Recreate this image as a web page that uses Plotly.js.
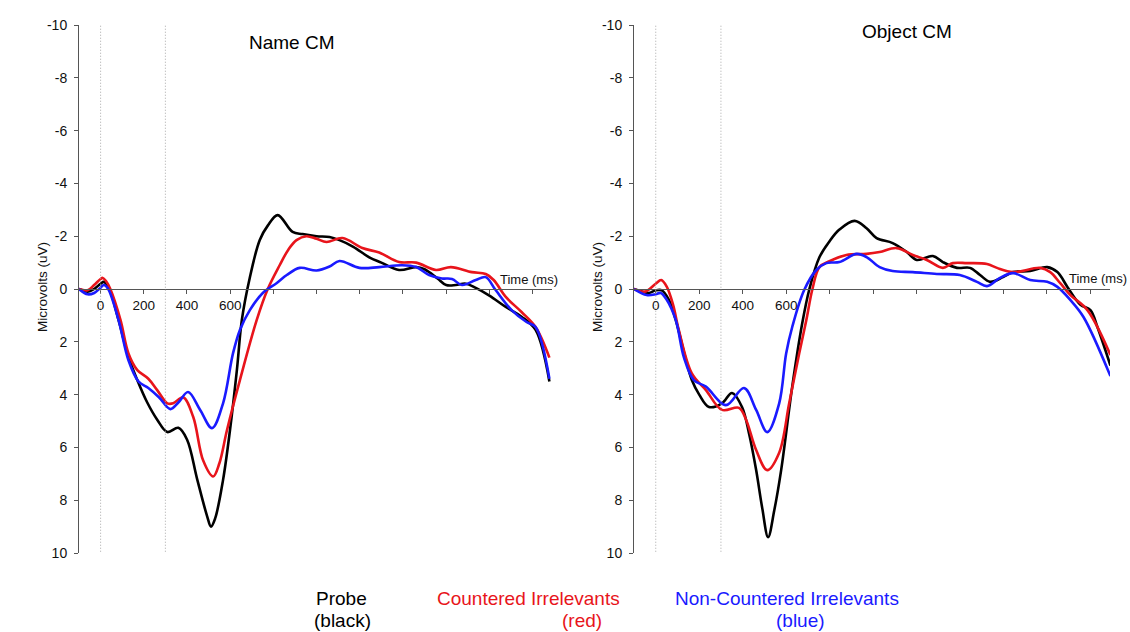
<!DOCTYPE html>
<html>
<head>
<meta charset="utf-8">
<script src="https://cdn.plot.ly/plotly-3.0.1.min.js"></script>
<style>html,body{margin:0;padding:0;background:#fff;}#chart{width:1130px;height:632px;}</style>
</head>
<body>
<div id="chart"></div>
<script>
// ---- Data (time in ms, amplitude in microvolts) ----
const panelTitles = ["Name CM", "Object CM"];
const seriesNames = ["Probe", "Countered Irrelevants", "Non-Countered Irrelevants"];
const seriesColors = ["#000000", "#e8141b", "#1a1aff"];
const markerTimes = [0, 300];
const xTickVals = [0, 200, 400, 600, 800, 1000, 1200, 1400, 1600, 1800, 2000];
const xTickText = ["0", "200", "400", "600", "", "", "", "", "", "", ""];
const yTickVals = [-10, -8, -6, -4, -2, 0, 2, 4, 6, 8, 10];
const yTickText = ["-10", "-8", "-6", "-4", "-2", "0", "2", "4", "6", "8", "10"];

// Name CM
const nameProbeT = [-100, -60, -30, 0, 15, 40, 83, 130, 170, 216, 262, 309, 360, 400, 447, 493, 511, 530, 567, 599, 631, 654, 690, 737, 774, 820, 889, 935, 1000, 1060, 1106, 1170, 1244, 1300, 1382, 1461, 1500, 1560, 1600, 1645, 1691, 1737, 1800, 1876, 1949, 2014, 2078];
const nameProbeV = [0, 0.1, 0.0, -0.2, -0.27, 0.0, 1.17, 2.6, 3.45, 4.3, 4.95, 5.42, 5.26, 5.7, 7.2, 8.6, 9.0, 8.7, 7.23, 5.35, 3.07, 1.17, -0.4, -1.86, -2.4, -2.8, -2.16, -2.08, -2.0, -1.97, -1.85, -1.6, -1.2, -1.0, -0.72, -0.83, -0.75, -0.4, -0.15, -0.15, -0.2, -0.04, 0.25, 0.68, 1.05, 1.55, 3.5];

const nameCounteredT = [-100, -60, -30, 0, 10, 25, 45, 92, 129, 170, 221, 262, 309, 336, 382, 429, 475, 521, 550, 585, 645, 723, 774, 829, 870, 907, 953, 1000, 1046, 1120, 1212, 1290, 1382, 1461, 1553, 1622, 1719, 1783, 1820, 1876, 1949, 2014, 2078];
const nameCounteredV = [0, 0.05, -0.15, -0.38, -0.42, -0.3, 0, 1.17, 2.44, 3.07, 3.4, 3.83, 4.33, 4.33, 4.1, 4.85, 6.5, 7.1, 6.6, 5.35, 3.45, 1.17, 0, -0.9, -1.5, -1.85, -2.0, -1.9, -1.78, -1.93, -1.55, -1.38, -1.02, -1.0, -0.72, -0.83, -0.64, -0.57, -0.34, 0.3, 0.87, 1.44, 2.6];

const nameNonCounteredT = [-100, -60, -30, 0, 15, 35, 83, 129, 175, 221, 270, 323, 360, 405, 461, 516, 567, 613, 645, 691, 751, 816, 862, 922, 1000, 1060, 1106, 1198, 1290, 1396, 1461, 1521, 1580, 1627, 1673, 1737, 1783, 1829, 1903, 1972, 2014, 2078];
const nameNonCounteredV = [0, 0.2, 0.15, -0.05, -0.15, 0, 1.17, 2.7, 3.5, 3.75, 4.1, 4.55, 4.3, 3.9, 4.58, 5.27, 4.33, 2.44, 1.55, 0.8, 0.15, -0.23, -0.53, -0.8, -0.7, -0.85, -1.06, -0.8, -0.83, -0.9, -0.83, -0.53, -0.4, -0.38, -0.15, -0.34, -0.45, 0.04, 0.8, 1.25, 1.44, 3.4];

// Object CM
const objProbeT = [-100, -60, -32, 0, 28, 60, 92, 130, 166, 200, 245, 305, 351, 397, 430, 462, 490, 517, 545, 577, 628, 674, 707, 753, 799, 845, 915, 970, 1016, 1090, 1155, 1201, 1275, 1321, 1386, 1446, 1492, 1538, 1598, 1644, 1723, 1801, 1848, 1894, 1954, 2000, 2032, 2092];
const objProbeV = [0, 0.1, 0.15, 0.05, 0.05, 0.4, 1.17, 2.4, 3.45, 4.0, 4.47, 4.33, 3.94, 4.47, 5.5, 6.86, 8.3, 9.4, 8.4, 6.86, 3.7, 1.3, 0, -1.2, -1.8, -2.25, -2.58, -2.3, -1.93, -1.74, -1.4, -1.1, -1.25, -1.02, -0.8, -0.8, -0.53, -0.27, -0.45, -0.64, -0.68, -0.83, -0.64, -0.08, 0.6, 0.8, 1.44, 2.9];

const objCounteredT = [-100, -50, 0, 25, 50, 80, 106, 166, 231, 305, 383, 416, 462, 513, 568, 614, 660, 693, 721, 753, 799, 877, 970, 1030, 1108, 1183, 1247, 1321, 1367, 1432, 1524, 1570, 1644, 1769, 1815, 1861, 1908, 1986, 2092];
const objCounteredV = [0, 0.1, -0.2, -0.34, -0.1, 0.6, 1.55, 3.2, 3.83, 4.58, 4.5, 4.96, 6.1, 6.86, 6.2, 4.33, 2.44, 1.17, 0, -0.83, -1.05, -1.29, -1.33, -1.4, -1.55, -1.29, -1.1, -0.8, -0.98, -0.98, -0.95, -0.8, -0.64, -0.8, -0.64, -0.22, 0.23, 0.8, 2.5];

const objNonCounteredT = [-100, -42, 0, 23, 50, 92, 130, 175, 231, 323, 406, 462, 513, 568, 600, 628, 683, 739, 785, 845, 924, 970, 1030, 1090, 1183, 1293, 1399, 1478, 1524, 1584, 1644, 1723, 1801, 1848, 1908, 1968, 2092];
const objNonCounteredV = [0, 0.23, 0.2, 0.15, 0.4, 1.17, 2.6, 3.45, 3.7, 4.4, 3.75, 4.58, 5.42, 4.33, 2.44, 1.44, 0.04, -0.72, -0.98, -1.02, -1.33, -1.21, -0.83, -0.68, -0.64, -0.57, -0.53, -0.27, -0.11, -0.42, -0.6, -0.34, -0.27, -0.08, 0.42, 1.06, 3.3];

// ---- Build traces ----
const panels = [
  {xa: "x", ya: "y", series: [[nameProbeT, nameProbeV], [nameCounteredT, nameCounteredV], [nameNonCounteredT, nameNonCounteredV]]},
  {xa: "x2", ya: "y2", series: [[objProbeT, objProbeV], [objCounteredT, objCounteredV], [objNonCounteredT, objNonCounteredV]]}
];
const traces = [];
panels.forEach(p => {
  p.series.forEach((s, i) => {
    traces.push({
      type: "scatter", mode: "lines", x: s[0], y: s[1], xaxis: p.xa, yaxis: p.ya,
      name: seriesNames[i], showlegend: false, hoverinfo: "skip",
      line: {color: seriesColors[i], width: 2.6, shape: "spline", smoothing: 1}
    });
  });
});

const FONT = "Liberation Sans, Arial, sans-serif";
const yDom = [1 - 553 / 632, 1 - 25 / 632];
const xDom1 = [79 / 1130, 552 / 1130];
const xDom2 = [634 / 1130, 1110 / 1130];
const xRange = [-100, 2090];

function xAxis(dom) {
  return {
    domain: dom, range: xRange, anchor: "free", position: (yDom[0] + yDom[1]) / 2,
    showline: true, linecolor: "#555", linewidth: 1, showgrid: false, zeroline: false,
    ticks: "outside", ticklen: 4, tickcolor: "#555", tickmode: "array",
    tickvals: xTickVals, ticktext: xTickText, tickfont: {family: FONT, size: 13.5, color: "#111"}
  };
}
function yAxis(anchor) {
  return {
    domain: yDom, range: [10, -10], anchor: anchor,
    showline: true, linecolor: "#555", linewidth: 1, showgrid: false, zeroline: false,
    ticks: "outside", ticklen: 4, tickcolor: "#555", tickmode: "array", ticklabelstandoff: 4,
    tickvals: yTickVals, ticktext: yTickText, tickfont: {family: FONT, size: 14, color: "#111"}
  };
}

const shapes = [];
["x", "x2"].forEach(xr => {
  markerTimes.forEach(t => {
    shapes.push({type: "line", xref: xr, yref: "y", x0: t, x1: t, y0: -10.2, y1: 10,
      line: {color: "#a8a8a8", width: 1, dash: "1px,2px"}});
  });
});

function ann(text, px, py, size, color, extra) {
  return Object.assign({text: text, xref: "paper", yref: "paper", x: px / 1130, y: 1 - py / 632,
    xanchor: "center", yanchor: "middle", showarrow: false,
    font: {family: FONT, size: size, color: color}}, extra || {});
}

const annotations = [
  ann(panelTitles[0], 292, 42, 19, "#000"),
  ann(panelTitles[1], 907, 31, 19, "#000"),
  ann("Microvolts (uV)", 42, 287, 13.5, "#111", {textangle: -90}),
  ann("Microvolts (uV)", 597, 287, 13.5, "#111", {textangle: -90}),
  ann("Time (ms)", 529, 280, 13, "#111"),
  ann("Time (ms)", 1098, 278, 13, "#111"),
  ann(seriesNames[0], 341, 598, 19, seriesColors[0]),
  ann("(black)", 342, 620, 19, seriesColors[0]),
  ann(seriesNames[1], 528, 598, 19, seriesColors[1]),
  ann("(red)", 582, 620, 19, seriesColors[1]),
  ann(seriesNames[2], 787, 598, 19, seriesColors[2]),
  ann("(blue)", 800, 620, 19, seriesColors[2])
];

const layout = {
  width: 1130, height: 632, margin: {l: 0, r: 0, t: 0, b: 0},
  paper_bgcolor: "#fff", plot_bgcolor: "#fff", showlegend: false,
  font: {family: FONT},
  xaxis: xAxis(xDom1), yaxis: yAxis("x"),
  xaxis2: xAxis(xDom2), yaxis2: yAxis("x2"),
  shapes: shapes, annotations: annotations
};

Plotly.newPlot("chart", traces, layout, {displayModeBar: false, staticPlot: true});
</script>
</body>
</html>
